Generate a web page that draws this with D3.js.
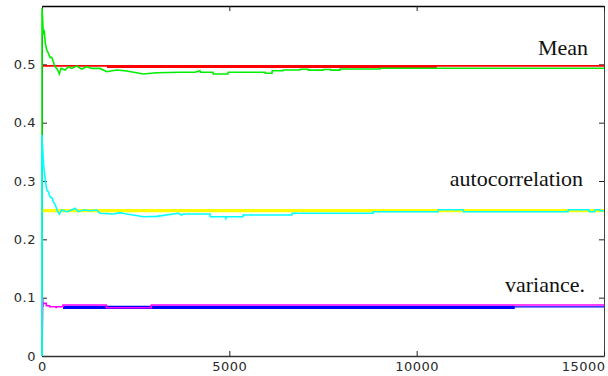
<!DOCTYPE html>
<html>
<head>
<meta charset="utf-8">
<script src="https://cdn.jsdelivr.net/npm/d3@7"></script>
<style>
  body { margin: 0; background: #fff; }
  .tick text { font-family: "DejaVu Sans", sans-serif; font-size: 13px; fill: #2a2a2a; letter-spacing: 0.5px; }
  .note { font-family: "Liberation Serif", "Times New Roman", serif; font-size: 22px; fill: #111; }
</style>
</head>
<body>
<svg id="chart" width="608" height="376"></svg>
<script>
// values: [iteration, value]
const meanTrue = [[0, 0.4972], [15000, 0.4972]];
const meanTrueThick = [[1735, 0.4958], [10535, 0.4958]];
const meanEst = [
  [0, 0], [0, 0.596], [8, 0.5875], [17, 0.576], [35, 0.553], [62, 0.556], [89, 0.536],
  [125, 0.5246], [169, 0.519], [213, 0.512], [258, 0.512], [302, 0.5046], [347, 0.496],
  [409, 0.4915], [463, 0.4835], [507, 0.4932], [614, 0.4903], [703, 0.496], [792, 0.493],
  [926, 0.497], [1060, 0.492], [1193, 0.496], [1326, 0.493], [1548, 0.493], [1727, 0.4874],
  [1994, 0.4903], [2260, 0.4886], [2704, 0.4835], [3060, 0.4857], [3683, 0.4864],
  [4083, 0.4864], [4217, 0.489], [4230, 0.4864], [4564, 0.4864], [4570, 0.4835],
  [4964, 0.4835], [4970, 0.4864], [5952, 0.4864], [5958, 0.4847], [6139, 0.4847],
  [6145, 0.489], [6432, 0.489], [6438, 0.4903], [6886, 0.4903], [6892, 0.4915],
  [7100, 0.4915], [7106, 0.490], [7500, 0.490], [7506, 0.4912], [7700, 0.4912],
  [7706, 0.490], [7954, 0.490], [7960, 0.492], [9022, 0.492], [9030, 0.4932], [15000, 0.4932]
];
const acfTrue = [[0, 0.2491], [15000, 0.2491]];
const acfEst = [
  [0, 0], [0, 0.379], [8, 0.3646], [26, 0.3475], [45, 0.3245], [62, 0.316], [89, 0.3017],
  [125, 0.2846], [169, 0.2817], [213, 0.2731], [276, 0.2703], [302, 0.2646], [365, 0.2572],
  [418, 0.2474], [463, 0.2434], [525, 0.2503], [659, 0.2474], [792, 0.2503], [881, 0.2532],
  [970, 0.2474], [1103, 0.2503], [1282, 0.249], [1459, 0.2503], [1548, 0.2446],
  [1904, 0.2434], [2082, 0.2457], [2260, 0.2434], [2437, 0.2417], [2704, 0.2388],
  [3060, 0.2394], [3638, 0.2446], [3727, 0.2417], [3760, 0.2434], [4484, 0.2434],
  [4490, 0.2388], [4900, 0.2388], [4910, 0.236], [4930, 0.2388], [5365, 0.2388],
  [5370, 0.2417], [6672, 0.2417], [6678, 0.2446], [8834, 0.2446], [8840, 0.2474],
  [10570, 0.2474], [10580, 0.2508], [11240, 0.2508], [11250, 0.2474], [14040, 0.2474],
  [14050, 0.2508], [14600, 0.2508], [14610, 0.2474], [14750, 0.2474], [14760, 0.2508],
  [14890, 0.2508], [14900, 0.249], [15000, 0.249]
];
const varTrueThick = [[560, 0.0834], [12620, 0.0834]];
const varTrueThin = [[12620, 0.0842], [15000, 0.0842]];
const varEst = [
  [0, 0], [20, 0.099], [27, 0.084], [30, 0.0903], [115, 0.0903], [115, 0.0862], [205, 0.0862],
  [205, 0.0845], [382, 0.0845], [382, 0.082], [390, 0.0845], [560, 0.0845], [560, 0.0874],
  [1717, 0.0874], [1717, 0.0828], [2918, 0.0828], [2918, 0.0874], [15000, 0.0874]
];
const xTicks = [0, 5000, 10000, 15000];
const yTicks = [0, 0.1, 0.2, 0.3, 0.4, 0.5];
const notes = [
  { text: "Mean", x: 14573, y: 0.516 },
  { text: "autocorrelation", x: 14440, y: 0.2914 },
  { text: "variance.", x: 14493, y: 0.1097 }
];

const svg = d3.select("#chart");
const pl = 42, pr = 604, pt = 6, pb = 356;
const x = d3.scaleLinear().domain([0, 15000]).range([pl, pr]);
const y = d3.scaleLinear().domain([0, 0.6]).range([pb, pt]);

// axes: inward ticks, box
svg.append("g").attr("transform", `translate(${pl},0)`)
  .call(d3.axisLeft(y).tickValues(yTicks).tickSize(-5).tickSizeOuter(0).tickPadding(6)
    .tickFormat(d => d === 0 ? "0" : d3.format(".1f")(d)))
  .call(g => g.select(".domain").attr("stroke", "#333"));
svg.append("g").attr("transform", `translate(${pr},0)`)
  .call(d3.axisRight(y).tickValues(yTicks).tickSize(-5).tickSizeOuter(0).tickFormat(""))
  .call(g => g.select(".domain").attr("stroke", "#444"));
svg.append("g").attr("transform", `translate(0,${pt})`)
  .call(d3.axisTop(x).tickValues(xTicks).tickSize(-5).tickSizeOuter(0).tickFormat(""))
  .call(g => g.select(".domain").attr("stroke", "#000").attr("stroke-width", 1.6));
const xa = svg.append("g").attr("transform", `translate(0,${pb})`)
  .call(d3.axisBottom(x).tickValues(xTicks).tickSize(-5).tickSizeOuter(0).tickPadding(6)
    .tickFormat(d3.format("d")))
  .call(g => g.select(".domain").attr("stroke", "#333").attr("stroke-width", 1.5));
xa.selectAll(".tick text").filter(d => d === 15000).attr("text-anchor", "end").attr("dx", 1);
svg.selectAll(".tick line").attr("stroke", "#222");

const line = d3.line().x(d => x(d[0])).y(d => y(d[1]));
function draw(data, color, w) {
  svg.append("path").datum(data).attr("fill", "none").attr("stroke", color)
    .attr("stroke-width", w).attr("d", line);
}
draw(varTrueThick, "#0000ff", 3.4);
draw(varTrueThin, "#0000ff", 1.4);
draw(varEst, "#ff00ff", 1.6);
draw(meanTrue, "#ff0000", 1.8);
draw(meanTrueThick, "#ff0000", 2.2);
draw(meanEst, "#00ee00", 1.6);
draw(acfTrue, "#ffff00", 3.3);
draw(acfEst, "#00ffff", 1.6);

svg.selectAll(".note").data(notes).enter().append("text")
  .attr("class", "note").attr("text-anchor", "end")
  .attr("x", d => x(d.x)).attr("y", d => y(d.y)).text(d => d.text);
</script>
</body>
</html>
